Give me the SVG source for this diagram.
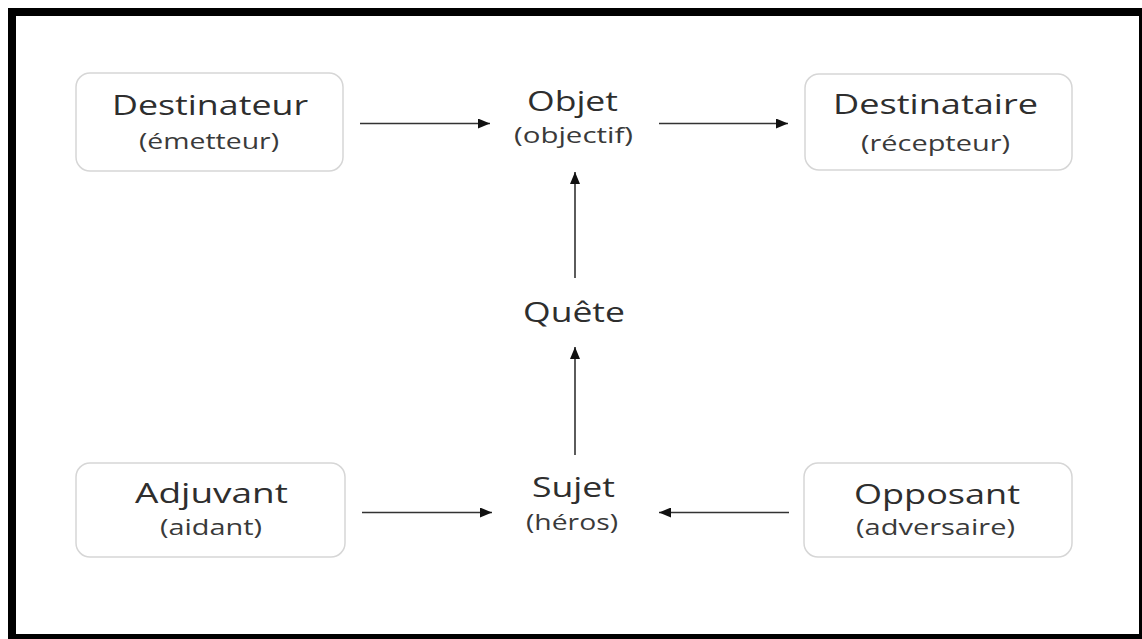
<svg xmlns="http://www.w3.org/2000/svg" width="1142" height="639" viewBox="0 0 1142 639">
<style>
.frame{fill:#fff;stroke:#000;stroke-width:8}
.box{fill:#fff;stroke:#d6d6d6;stroke-width:1.5}
.t{font-family:"Open Sans","Liberation Sans",sans-serif;font-size:27px;fill:#2e2e2e;text-anchor:middle}
.s{font-family:"Open Sans","Liberation Sans",sans-serif;font-size:21px;fill:#3a3a3a;text-anchor:middle}
.c{stroke:#333;stroke-width:1.6;fill:none;marker-end:url(#ah)}
</style>
<defs>
<marker id="ah" viewBox="0 0 12 10" refX="12" refY="5" markerWidth="12" markerHeight="10" markerUnits="userSpaceOnUse" orient="auto">
<path d="M0,0 L12,5 L0,10 Z" fill="#111"/>
</marker>
</defs>
<rect class="frame" x="12" y="12" width="1131" height="626"/>
<g id="destinateur">
<rect class="box" x="76" y="73" width="267" height="98" rx="14"/>
<text class="t" x="210" y="115" textLength="196" lengthAdjust="spacingAndGlyphs">Destinateur</text>
<text class="s" x="209" y="149" textLength="140" lengthAdjust="spacingAndGlyphs">(émetteur)</text>
</g>
<g id="objet">
<text class="t" x="572.5" y="111" textLength="91" lengthAdjust="spacingAndGlyphs">Objet</text>
<text class="s" x="573.5" y="143" textLength="119" lengthAdjust="spacingAndGlyphs">(objectif)</text>
</g>
<g id="destinataire">
<rect class="box" x="805" y="74" width="267" height="96" rx="14"/>
<text class="t" x="935.5" y="114" textLength="205" lengthAdjust="spacingAndGlyphs">Destinataire</text>
<text class="s" x="935.5" y="151" textLength="149" lengthAdjust="spacingAndGlyphs">(récepteur)</text>
</g>
<g id="quete">
<text class="t" x="574" y="322" textLength="102" lengthAdjust="spacingAndGlyphs">Quête</text>
</g>
<g id="adjuvant">
<rect class="box" x="76" y="463" width="269" height="94" rx="14"/>
<text class="t" x="211.5" y="503" textLength="153" lengthAdjust="spacingAndGlyphs">Adjuvant</text>
<text class="s" x="211" y="535" textLength="102" lengthAdjust="spacingAndGlyphs">(aidant)</text>
</g>
<g id="sujet">
<text class="t" x="573.5" y="497" textLength="83" lengthAdjust="spacingAndGlyphs">Sujet</text>
<text class="s" x="572" y="530" textLength="92" lengthAdjust="spacingAndGlyphs">(héros)</text>
</g>
<g id="opposant">
<rect class="box" x="804" y="463" width="268" height="94" rx="14"/>
<text class="t" x="937" y="504" textLength="166" lengthAdjust="spacingAndGlyphs">Opposant</text>
<text class="s" x="935.5" y="535" textLength="159" lengthAdjust="spacingAndGlyphs">(adversaire)</text>
</g>
<g id="connectors">
<line class="c" x1="360" y1="123.5" x2="490" y2="123.5"/>
<line class="c" x1="659" y1="123.5" x2="788" y2="123.5"/>
<line class="c" x1="575" y1="278" x2="575" y2="172"/>
<line class="c" x1="575" y1="455" x2="575" y2="347"/>
<line class="c" x1="362" y1="512.5" x2="492" y2="512.5"/>
<line class="c" x1="789" y1="512.5" x2="659" y2="512.5"/>
</g>
</svg>
